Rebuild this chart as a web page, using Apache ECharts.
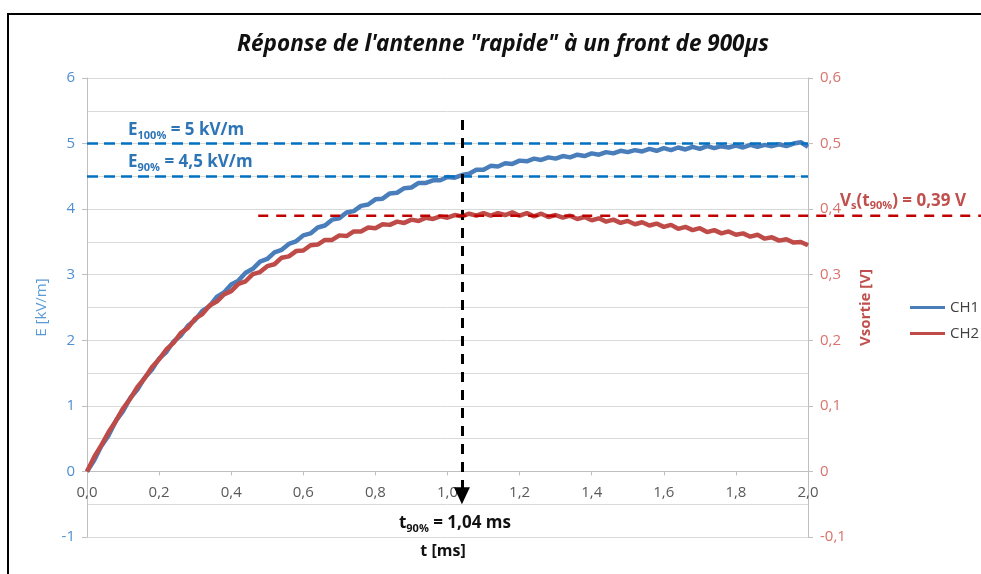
<!DOCTYPE html>
<html><head><meta charset="utf-8">
<script src="https://cdn.jsdelivr.net/npm/echarts@6/dist/echarts.min.js"></script>
<style>html,body{margin:0;padding:0;background:#fff}#c{width:981px;height:574px}</style>
</head><body><div id="c"></div>
<script>
const times = [0.00,0.02,0.04,0.06,0.08,0.10,0.12,0.14,0.16,0.18,0.20,0.22,0.24,0.26,0.28,0.30,0.32,0.34,0.36,0.38,
0.40,0.42,0.44,0.46,0.48,0.50,0.52,0.54,0.56,0.58,0.60,0.62,0.64,0.66,0.68,0.70,0.72,0.74,0.76,0.78,
0.80,0.82,0.84,0.86,0.88,0.90,0.92,0.94,0.96,0.98,1.00,1.02,1.04,1.06,1.08,1.10,1.12,1.14,1.16,1.18,
1.20,1.22,1.24,1.26,1.28,1.30,1.32,1.34,1.36,1.38,1.40,1.42,1.44,1.46,1.48,1.50,1.52,1.54,1.56,1.58,
1.60,1.62,1.64,1.66,1.68,1.70,1.72,1.74,1.76,1.78,1.80,1.82,1.84,1.86,1.88,1.90,1.92,1.94,1.96,1.98,2.00];
// CH1 : E [kV/m]
const ch1 = [0.00,0.17,0.39,0.55,0.77,0.92,1.12,1.25,1.43,1.55,1.72,1.82,1.98,2.07,2.22,2.31,2.45,2.52,2.66,2.73,
2.85,2.91,3.03,3.09,3.20,3.24,3.34,3.38,3.47,3.51,3.60,3.63,3.72,3.75,3.84,3.86,3.95,3.97,4.05,4.07,
4.15,4.16,4.24,4.25,4.32,4.33,4.40,4.40,4.44,4.44,4.49,4.48,4.52,4.54,4.60,4.60,4.66,4.65,4.70,4.69,
4.74,4.73,4.77,4.75,4.79,4.77,4.81,4.79,4.83,4.81,4.85,4.83,4.87,4.85,4.89,4.87,4.90,4.88,4.92,4.89,
4.93,4.90,4.94,4.91,4.95,4.92,4.96,4.93,4.96,4.94,4.97,4.94,4.98,4.95,4.98,4.96,4.99,4.96,5.00,5.02,4.95];
// CH2 : Vsortie [V]
const ch2 = [0.000,0.022,0.040,0.060,0.077,0.096,0.111,0.129,0.142,0.159,0.171,0.186,0.196,0.211,0.219,0.233,0.240,0.253,0.259,0.270,
0.275,0.286,0.290,0.301,0.304,0.313,0.316,0.326,0.328,0.336,0.337,0.345,0.346,0.353,0.353,0.360,0.359,0.366,0.366,0.372,
0.371,0.377,0.376,0.381,0.379,0.384,0.382,0.387,0.385,0.389,0.387,0.391,0.389,0.393,0.390,0.394,0.390,0.394,0.391,0.395,
0.390,0.394,0.389,0.393,0.388,0.391,0.387,0.390,0.385,0.388,0.383,0.386,0.381,0.384,0.379,0.382,0.377,0.380,0.375,0.378,
0.373,0.376,0.370,0.373,0.368,0.371,0.365,0.368,0.363,0.366,0.361,0.363,0.358,0.361,0.355,0.357,0.352,0.354,0.349,0.350,0.345];
const seriesNames = ['CH1','CH2'];
const eLevels = [5, 4.5];       // E100%, E90%
const vLevel = 0.39;            // Vs(t90%)
const t90 = 1.04;

const FONT = 'Open Sans';
const chart = echarts.init(document.getElementById('c'));
const comma = (v,d) => v.toFixed(d).replace('.', ',');

chart.setOption({
  animation: false,
  backgroundColor: '#fff',
  title: {
    text: 'Réponse de l\'antenne "rapide" à un front de 900µs',
    left: 498, top: 28, textAlign: 'center',
    textStyle: {fontFamily: 'Noto Sans', fontSize: 22.5, fontWeight: 'bold', fontStyle: 'italic', color: '#111'}
  },
  legend: {
    orient: 'vertical', left: 905, top: 295, itemWidth: 35, itemHeight: 3, itemGap: 11,
    icon: 'rect', data: seriesNames,
    textStyle: {fontFamily: FONT, fontSize: 15, color: '#404040'}
  },
  grid: {left: 87, right: 173, top: 78, bottom: 37, containLabel: false},
  xAxis: {
    type: 'value', min: 0, max: 2, interval: 0.2,
    axisLine: {onZero: true, onZeroAxisIndex: 0, lineStyle: {color: '#BFBFBF', width: 1}},
    axisTick: {show: true, length: 4, lineStyle: {color: '#BFBFBF'}},
    splitLine: {show: false},
    axisLabel: {margin: 14, color: '#595959', fontFamily: FONT, fontSize: 15, formatter: v => comma(v,1)}
  },
  yAxis: [{
    type: 'value', min: -1, max: 6, interval: 1,
    name: 'E [kV/m]', nameLocation: 'middle', nameGap: 38, nameRotate: 90,
    nameTextStyle: {color: '#5B9BD5', fontFamily: FONT, fontSize: 15},
    axisLine: {show: true, onZero: false, lineStyle: {color: '#BFBFBF'}},
    axisTick: {show: true, length: 5, lineStyle: {color: '#BFBFBF'}},
    axisLabel: {margin: 12, color: '#4F8FD0', fontFamily: FONT, fontSize: 15},
    splitLine: {show: true, lineStyle: {color: '#D9D9D9', width: 1}},
    minorTick: {show: false, splitNumber: 2},
    minorSplitLine: {show: true, lineStyle: {color: '#D9D9D9', width: 1}}
  }, {
    type: 'value', min: -0.1, max: 0.6, interval: 0.1, position: 'right',
    name: 'Vsortie [V]', nameLocation: 'middle', nameGap: 50, nameRotate: 90,
    nameTextStyle: {color: '#C0504D', fontFamily: FONT, fontSize: 15, fontWeight: 'bold'},
    axisLine: {show: true, onZero: false, lineStyle: {color: '#BFBFBF'}},
    axisTick: {show: true, length: 5, lineStyle: {color: '#BFBFBF'}},
    axisLabel: {margin: 12, color: '#D9736B', fontFamily: FONT, fontSize: 15, formatter: v => (Math.abs(v) < 1e-9 ? '0' : comma(v,1))},
    splitLine: {show: false}
  }],
  series: [{
    name: seriesNames[0], type: 'line', yAxisIndex: 0, symbol: 'none', z: 3,
    data: times.map((t,i) => [t, ch1[i]]),
    lineStyle: {color: '#4A7EBB', width: 4.5}, itemStyle: {color: '#4A7EBB'},
    markLine: {
      silent: true, symbol: 'none', label: {show: false}, animation: false,
      data: [
        {yAxis: eLevels[0], lineStyle: {color: '#0070C0', width: 2.5, type: [11,6]}},
        {yAxis: eLevels[1], lineStyle: {color: '#0070C0', width: 2.5, type: [11,6]}},
        [{coord: [t90, 5.36], symbol: 'none'},
         {coord: [t90, -0.37], symbol: 'triangle', symbolSize: [16,17],
          lineStyle: {color: '#000', width: 3, type: [10,8]}}]
      ]
    }
  }, {
    name: seriesNames[1], type: 'line', yAxisIndex: 1, symbol: 'none', z: 4,
    data: times.map((t,i) => [t, ch2[i]]),
    lineStyle: {color: '#BE4B48', width: 4.5}, itemStyle: {color: '#BE4B48'}
  }]
});

// place the time axis on the E = 0 line
const y0 = chart.convertToPixel({yAxisIndex: 0}, 0);
const yBottom = chart.convertToPixel({yAxisIndex: 0}, -1);
chart.setOption({xAxis: {offset: -(yBottom - y0)}});

const yV = chart.convertToPixel({yAxisIndex: 1}, vLevel);
const xV = chart.convertToPixel({xAxisIndex: 0}, 0.475);
const yE100 = chart.convertToPixel({yAxisIndex: 0}, eLevels[0]);
const yE90 = chart.convertToPixel({yAxisIndex: 0}, eLevels[1]);
const xT = chart.convertToPixel({xAxisIndex: 0}, t90);

const richSub = (big, col) => ({
  b: {fontFamily: FONT, fontSize: big, fontWeight: 'bold', fill: col, lineHeight: 22, verticalAlign: 'middle'},
  s: {fontFamily: FONT, fontSize: 11, fontWeight: 'bold', fill: col, lineHeight: 22, verticalAlign: 'bottom'}
});
const txt = (x, y, text, col, big, align) => ({
  type: 'text', x: x, y: y, z: 100,
  style: {text: text, rich: richSub(big, col), fill: col, align: align || 'left', verticalAlign: 'middle',
          textAlign: align || 'left', textVerticalAlign: 'middle'}
});

chart.setOption({
  graphic: [
    {type: 'rect', z: 100, shape: {x: 8, y: 14, width: 1000, height: 620}, style: {fill: 'none', stroke: '#000', lineWidth: 2}},
    {type: 'line', z: 50, shape: {x1: xV, y1: yV, x2: 981, y2: yV},
     style: {stroke: '#C00000', lineWidth: 2.5, lineDash: [10,8]}},
    txt(128, yE100 - 13, '{b|E}{s|100%}{b| = 5 kV/m}', '#2E75B6', 17),
    txt(128, yE90 - 14, '{b|E}{s|90%}{b| = 4,5 kV/m}', '#2E75B6', 17),
    txt(840, yV - 15, '{b|V}{s|s}{b|(t}{s|90%}{b|) = 0,39 V}', '#C0504D', 17),
    txt(xT - 7, 523, '{b|t}{s|90%}{b| = 1,04 ms}', '#111', 17, 'center'),
    {type: 'text', x: 443, y: 551, z: 100, style: {text: 't [ms]', fill: '#111', font: 'bold 16px "Open Sans"',
      align: 'center', verticalAlign: 'middle', textAlign: 'center', textVerticalAlign: 'middle'}}
  ]
});
</script></body></html>
